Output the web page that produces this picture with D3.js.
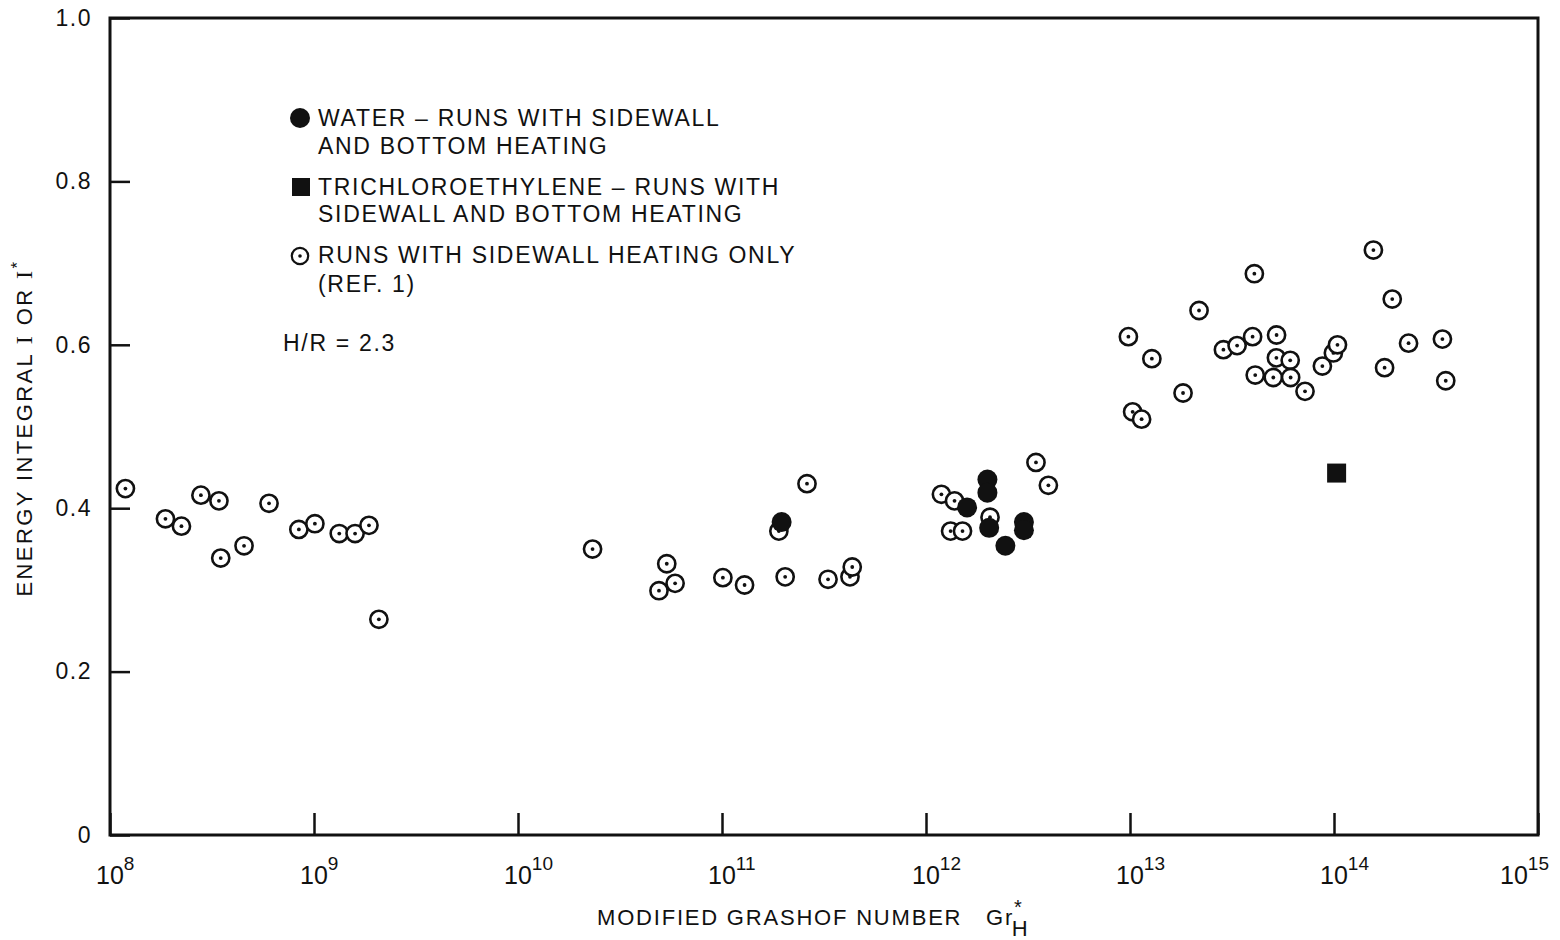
<!DOCTYPE html>
<html>
<head>
<meta charset="utf-8">
<script src="https://cdn.jsdelivr.net/npm/d3@7"></script>
<style>
  body { margin: 0; background: #fff; }
  text { font-family: "Liberation Sans", Arial, sans-serif; fill: #111; }
</style>
</head>
<body>
<div id="chart"></div>
<script>
// datos
const sidewallGr = [1.19e8, 1.87e8, 2.24e8, 2.79e8, 3.42e8, 3.49e8, 4.54e8, 6.02e8, 8.43e8, 1.01e9,
  1.33e9, 1.59e9, 1.86e9, 2.08e9,
  2.32e10, 5.36e10, 5.89e10, 4.91e10, 1.01e11, 1.29e11, 2.04e11, 2.61e11, 3.31e11, 4.24e11, 4.35e11, 1.90e11,
  1.19e12, 1.38e12, 2.06e12, 1.32e12, 1.51e12, 3.46e12, 3.98e12,
  9.82e12, 1.03e13, 1.14e13, 1.28e13, 1.82e13, 2.18e13, 2.87e13, 3.35e13, 3.99e13, 4.07e13, 4.11e13,
  5.04e13, 5.23e13, 5.22e13, 6.10e13, 6.13e13, 7.21e13, 8.77e13, 9.93e13, 1.04e14, 1.56e14, 1.77e14,
  1.93e14, 2.32e14, 3.40e14, 3.53e14];
const sidewallI = [0.424, 0.387, 0.378, 0.416, 0.409, 0.339, 0.354, 0.406, 0.374, 0.381,
  0.369, 0.369, 0.379, 0.264,
  0.350, 0.332, 0.308, 0.299, 0.315, 0.306, 0.316, 0.430, 0.313, 0.316, 0.328, 0.372,
  0.417, 0.409, 0.389, 0.372, 0.372, 0.456, 0.428,
  0.610, 0.518, 0.509, 0.583, 0.541, 0.642, 0.594, 0.599, 0.610, 0.687, 0.563,
  0.560, 0.612, 0.584, 0.581, 0.560, 0.543, 0.574, 0.590, 0.600, 0.716, 0.572,
  0.656, 0.602, 0.607, 0.556];

const waterGr = [1.96e11, 1.59e12, 2.00e12, 2.00e12, 2.04e12, 2.45e12, 3.02e12, 3.02e12];
const waterI = [0.383, 0.401, 0.435, 0.419, 0.376, 0.354, 0.383, 0.373];

const trichGr = [1.03e14];
const trichI = [0.443];

const xTicks = [1e8, 1e9, 1e10, 1e11, 1e12, 1e13, 1e14, 1e15];
const yTicks = [0, 0.2, 0.4, 0.6, 0.8, 1.0];

const width = 1560, height = 940;
const margin = { top: 18, right: 22, bottom: 105, left: 110 };

const svg = d3.select('#chart').append('svg')
  .attr('width', width)
  .attr('height', height);

const x = d3.scaleLog()
  .domain([1e8, 1e15])
  .range([margin.left, width - margin.right]);

const y = d3.scaleLinear()
  .domain([0, 1])
  .range([height - margin.bottom, margin.top]);

// marco
svg.append('rect')
  .attr('x', x(1e8)).attr('y', y(1))
  .attr('width', x(1e15) - x(1e8))
  .attr('height', y(0) - y(1))
  .attr('fill', 'none').attr('stroke', '#111').attr('stroke-width', 3);

// eje X
const gx = svg.append('g')
  .attr('transform', `translate(0, ${y(0)})`)
  .call(d3.axisBottom(x).tickValues(xTicks).tickSize(-22).tickFormat(''));
gx.select('.domain').remove();
gx.selectAll('.tick line').attr('stroke', '#111').attr('stroke-width', 2.5);

const xl = svg.append('g').selectAll('text')
  .data(xTicks).enter().append('text')
  .attr('x', d => d === 1e15 ? x(d) - 38 : x(d) - 14)
  .attr('y', y(0) + 49)
  .attr('font-size', 25);
xl.append('tspan').text('10');
xl.append('tspan').attr('dy', -14).attr('font-size', 19)
  .text(d => Math.round(Math.log10(d)));

// eje Y
const gy = svg.append('g')
  .attr('transform', `translate(${x(1e8)}, 0)`)
  .call(d3.axisLeft(y).tickValues(yTicks).tickSize(-20)
    .tickFormat(d => d === 0 ? '0' : d3.format('.1f')(d)));
gy.select('.domain').remove();
gy.selectAll('.tick line').attr('stroke', '#111').attr('stroke-width', 2.5);
gy.selectAll('.tick text')
  .attr('x', -18).attr('font-size', 23).attr('letter-spacing', 1.5)
  .style('font-family', '"Liberation Sans", Arial, sans-serif').attr('fill', '#111');

// titulos de ejes
const xt = svg.append('text')
  .attr('x', 597).attr('y', 925)
  .attr('font-size', 22).attr('letter-spacing', 1.8);
xt.append('tspan').text('MODIFIED GRASHOF NUMBER\u00a0\u00a0\u00a0Gr');
xt.append('tspan').attr('dy', -11).attr('font-size', 20).text('*');
xt.append('tspan').attr('dx', -12).attr('dy', 22).attr('font-size', 22).text('H');

const yt = svg.append('text')
  .attr('transform', 'translate(32, 428) rotate(-90)')
  .attr('text-anchor', 'middle')
  .attr('font-size', 22).attr('letter-spacing', 2.4);
yt.append('tspan').text('ENERGY INTEGRAL ');
yt.append('tspan').style('font-family', '"Liberation Serif", serif').attr('font-size', 24).text('I');
yt.append('tspan').text(' OR ');
yt.append('tspan').style('font-family', '"Liberation Serif", serif').attr('font-size', 24).text('I');
yt.append('tspan').attr('dy', -9).attr('font-size', 17).text('*');

// puntos: abiertos primero, llenos encima
const open = svg.append('g').selectAll('g')
  .data(sidewallGr.map((g, i) => [g, sidewallI[i]]))
  .enter().append('g')
  .attr('transform', d => `translate(${x(d[0])}, ${y(d[1])})`);
open.append('circle').attr('r', 8.6)
  .attr('fill', '#fff').attr('stroke', '#111').attr('stroke-width', 2.6);
open.append('circle').attr('r', 1.9).attr('fill', '#111');

svg.append('g').selectAll('circle')
  .data(waterGr.map((g, i) => [g, waterI[i]]))
  .enter().append('circle')
  .attr('cx', d => x(d[0])).attr('cy', d => y(d[1]))
  .attr('r', 10).attr('fill', '#111');

svg.append('g').selectAll('rect')
  .data(trichGr.map((g, i) => [g, trichI[i]]))
  .enter().append('rect')
  .attr('x', d => x(d[0]) - 9.5).attr('y', d => y(d[1]) - 9.5)
  .attr('width', 19).attr('height', 19).attr('fill', '#111');

// leyenda
const leg = svg.append('g');
leg.append('circle').attr('cx', 300).attr('cy', 118).attr('r', 10).attr('fill', '#111');
leg.append('rect').attr('x', 292).attr('y', 178).attr('width', 18).attr('height', 18).attr('fill', '#111');
leg.append('circle').attr('cx', 300).attr('cy', 256).attr('r', 8.2)
  .attr('fill', '#fff').attr('stroke', '#111').attr('stroke-width', 2.2);
leg.append('circle').attr('cx', 300).attr('cy', 256).attr('r', 1.8).attr('fill', '#111');

const legLines = [
  ['WATER \u2013 RUNS WITH SIDEWALL', 318, 126],
  ['AND BOTTOM HEATING', 318, 154],
  ['TRICHLOROETHYLENE \u2013 RUNS WITH', 318, 195],
  ['SIDEWALL AND BOTTOM HEATING', 318, 222],
  ['RUNS WITH SIDEWALL HEATING ONLY', 318, 263],
  ['(REF. 1)', 318, 292],
  ['H/R = 2.3', 283, 351]
];
leg.selectAll('text.l').data(legLines).enter().append('text')
  .attr('x', d => d[1]).attr('y', d => d[2])
  .attr('font-size', 23).attr('letter-spacing', 1.7)
  .text(d => d[0]);
</script>
</body>
</html>
